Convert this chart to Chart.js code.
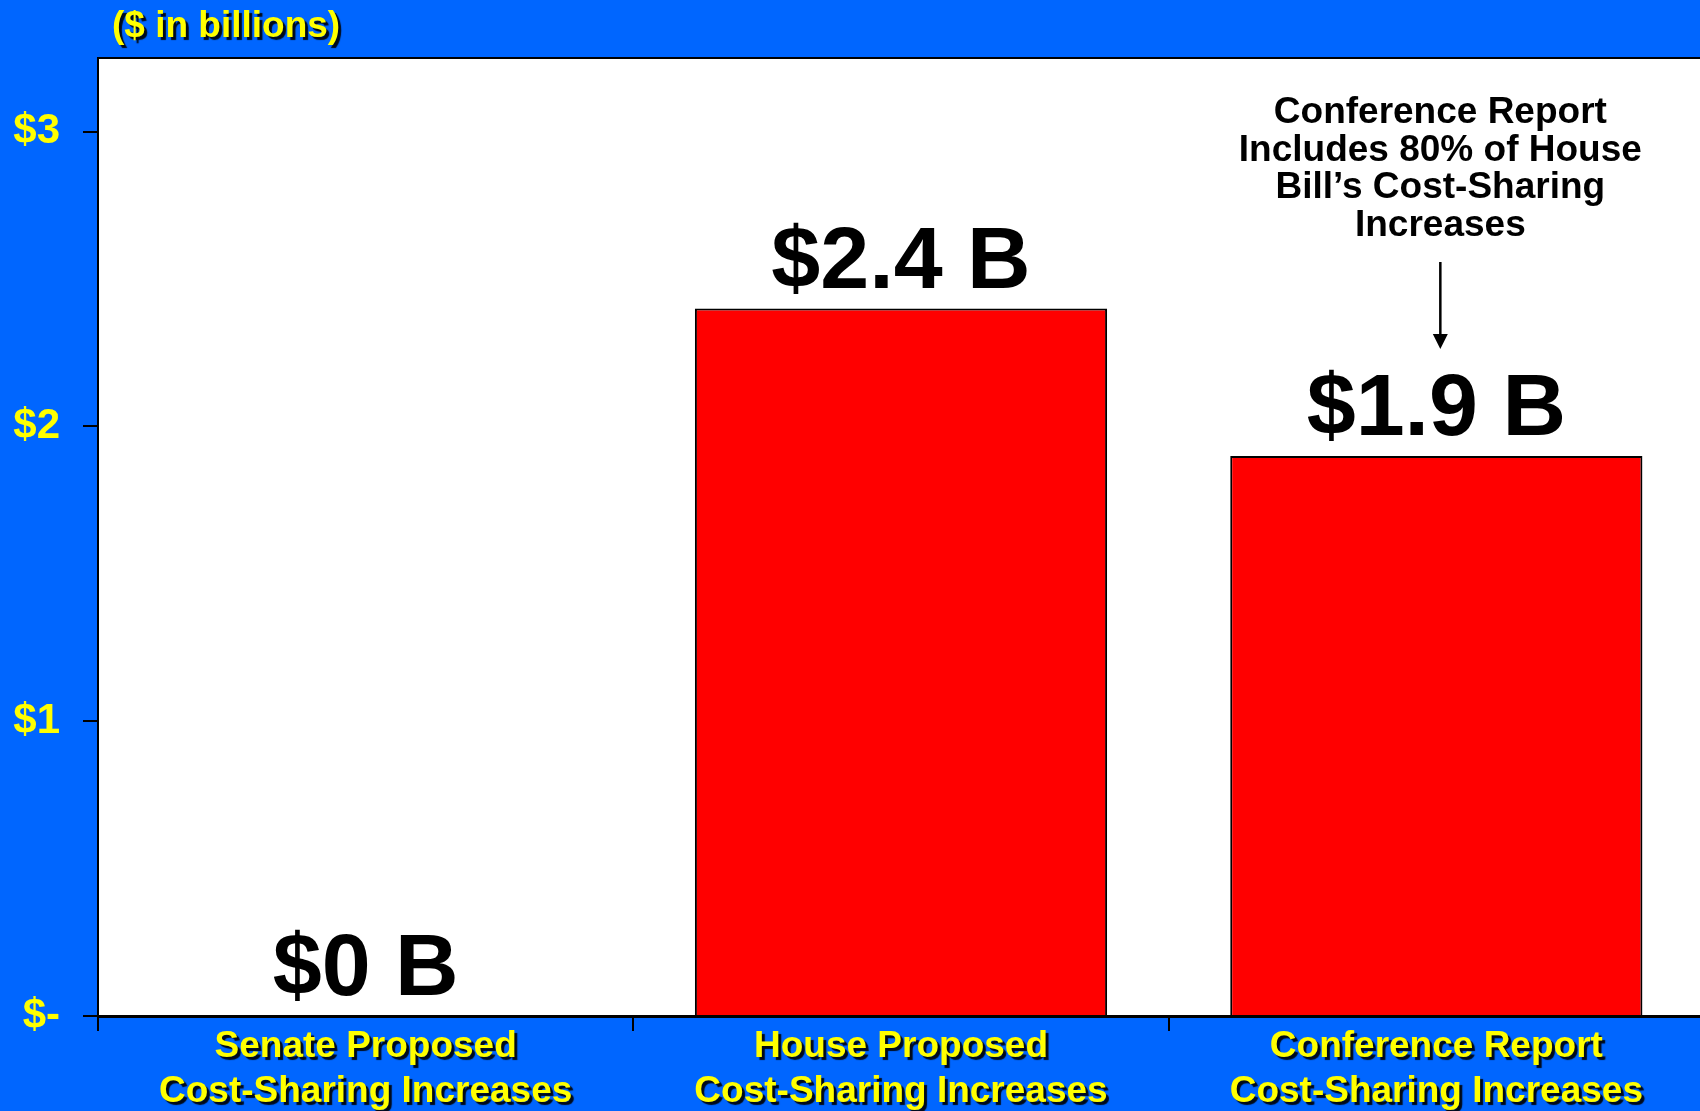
<!DOCTYPE html>
<html>
<head>
<meta charset="utf-8">
<script src="https://cdn.jsdelivr.net/npm/chart.js@4"></script>
<style>
  html, body { margin: 0; padding: 0; background: #0066FF; overflow: hidden; }
  canvas { display: block; }
</style>
</head>
<body>
<canvas id="costChart" width="1710" height="1111"></canvas>
<script>
const categories = [
  ["Senate Proposed", "Cost-Sharing Increases"],
  ["House Proposed", "Cost-Sharing Increases"],
  ["Conference Report", "Cost-Sharing Increases"]
];
const costSharing = [0, 2.4, 1.9];
const yTicks = [0, 1, 2, 3];
const yTickLabels = ["$-", "$1", "$2", "$3"];
const axisTitle = "($ in billions)";
const noteLines = ["Conference Report", "Includes 80% of House", "Bill\u2019s Cost-Sharing", "Increases"];

const FONT = "'Liberation Sans', Arial, sans-serif";
const BLUE = "#0066FF";
const YELLOW = "#FFFF00";

// blue slide background, white plot box with a black frame
const framePlugin = {
  id: "frame",
  beforeDraw(chart) {
    const { ctx, chartArea: a } = chart;
    ctx.save();
    ctx.fillStyle = BLUE;
    ctx.fillRect(0, 0, chart.width, chart.height);
    ctx.fillStyle = "#FFFFFF";
    ctx.fillRect(a.left, a.top, a.right - a.left, a.bottom - a.top);
    ctx.restore();
  },
  afterDraw(chart) {
    const { ctx, chartArea: a } = chart;
    ctx.save();
    ctx.strokeStyle = "#000";
    ctx.lineWidth = 2;
    ctx.strokeRect(a.left, a.top, a.right - a.left, a.bottom - a.top);
    ctx.restore();
  }
};

// yellow text with a black drop shadow
function shadowText(ctx, text, x, y) {
  ctx.save();
  ctx.shadowColor = "rgba(0,0,0,0.9)";
  ctx.shadowOffsetX = 3;
  ctx.shadowOffsetY = 3;
  ctx.shadowBlur = 1;
  ctx.fillStyle = YELLOW;
  ctx.fillText(text, x, y);
  ctx.restore();
}

const labelsPlugin = {
  id: "labels",
  afterDraw(chart) {
    const { ctx, chartArea: a } = chart;
    const xs = chart.scales.x;
    const bars = chart.getDatasetMeta(0).data;

    // unit title above the axis
    ctx.save();
    ctx.font = "bold 37px " + FONT;
    ctx.textAlign = "left";
    ctx.textBaseline = "alphabetic";
    shadowText(ctx, axisTitle, 112, 37);

    // category labels under the axis
    ctx.textAlign = "center";
    categories.forEach((lines, i) => {
      const cx = xs.getPixelForValue(i);
      lines.forEach((line, j) => shadowText(ctx, line, cx, a.bottom + 41 + j * 45));
    });

    // value labels over the bars
    ctx.fillStyle = "#000";
    ctx.font = "bold 88px " + FONT;
    bars.forEach((bar, i) => {
      ctx.fillText("$" + costSharing[i] + " B", bar.x, bar.y - 21);
    });

    // note with an arrow pointing at the conference bar
    const nx = bars[2].x + 4;
    ctx.font = "bold 37px " + FONT;
    noteLines.forEach((line, j) => ctx.fillText(line, nx, a.top + 65 + j * 37.5));

    const top = a.top + 204, tip = bars[2].y - 107;
    ctx.strokeStyle = "#000";
    ctx.lineWidth = 2.5;
    ctx.beginPath();
    ctx.moveTo(nx, top);
    ctx.lineTo(nx, tip - 12);
    ctx.stroke();
    ctx.beginPath();
    ctx.moveTo(nx - 7.5, tip - 15);
    ctx.lineTo(nx + 7.5, tip - 15);
    ctx.lineTo(nx, tip);
    ctx.closePath();
    ctx.fill();
    ctx.restore();
  }
};

new Chart(document.getElementById("costChart"), {
  type: "bar",
  data: {
    labels: categories,
    datasets: [{
      data: costSharing,
      backgroundColor: "#FF0000",
      borderColor: "#000",
      borderWidth: 2,
      barPercentage: 0.77,
      categoryPercentage: 1
    }]
  },
  options: {
    responsive: false,
    animation: false,
    devicePixelRatio: 1,
    layout: { padding: { top: 58, right: 6, left: 0, bottom: 0 } },
    plugins: { legend: { display: false }, tooltip: { enabled: false } },
    scales: {
      x: {
        grid: { offset: true, drawOnChartArea: false, color: "#000", lineWidth: 2, tickLength: 15 },
        border: { color: "#000", width: 3 },
        ticks: { display: false },
        afterFit(scale) { scale.height = 95; }
      },
      y: {
        min: 0,
        max: 3.25,
        afterBuildTicks(scale) { scale.ticks = yTicks.map(v => ({ value: v })); },
        grid: { drawOnChartArea: false, color: "#000", lineWidth: 2, tickLength: 15 },
        border: { color: "#000", width: 2 },
        ticks: {
          color: YELLOW,
          font: { family: FONT, size: 42, weight: "bold" },
          padding: 23,
          callback: (v) => yTickLabels[yTicks.indexOf(v)]
        },
        afterFit(scale) { scale.width = 98; }
      }
    }
  },
  plugins: [framePlugin, labelsPlugin]
});
</script>
</body>
</html>
